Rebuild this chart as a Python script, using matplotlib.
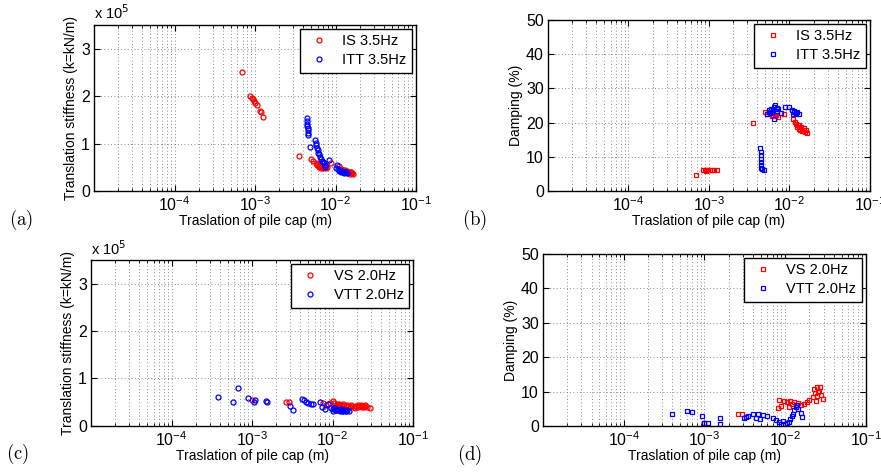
import matplotlib
matplotlib.use("Agg")
import matplotlib.pyplot as plt
from matplotlib.ticker import LogLocator, NullFormatter, FixedLocator

plt.rcParams['font.family'] = ['Liberation Sans', 'DejaVu Sans']

# ---------------- data ----------------
# (a) stiffness, horizontal test 3.5 Hz  (x in m, y in 1e5 kN/m)
is_a_x = [6.95e-4, 8.67e-4, 9.18e-4, 9.44e-4, 9.72e-4, 1.01e-3, 1.06e-3, 1.15e-3, 1.20e-3, 1.25e-3,
          3.55e-3, 4.97e-3, 5.30e-3, 5.80e-3, 5.95e-3, 6.10e-3, 6.30e-3, 6.50e-3, 6.70e-3, 6.90e-3,
          7.10e-3, 7.30e-3, 7.55e-3, 7.76e-3, 8.80e-3, 1.11e-2, 1.18e-2, 1.24e-2, 1.28e-2, 1.32e-2,
          1.36e-2, 1.40e-2, 1.44e-2, 1.48e-2, 1.52e-2, 1.56e-2, 1.60e-2, 1.65e-2, 1.30e-2, 1.42e-2,
          1.50e-2, 1.58e-2, 6.20e-3, 6.60e-3, 7.00e-3]
is_a_y = [2.50, 2.01, 1.97, 1.935, 1.905, 1.85, 1.82, 1.69, 1.67, 1.57,
          0.74, 0.67, 0.64, 0.58, 0.55, 0.57, 0.53, 0.55, 0.51, 0.53,
          0.50, 0.52, 0.49, 0.50, 0.58, 0.53, 0.47, 0.45, 0.43, 0.45,
          0.41, 0.43, 0.40, 0.39, 0.40, 0.37, 0.38, 0.36, 0.39, 0.37,
          0.36, 0.39, 0.50, 0.49, 0.48]
itt_a_x = [4.39e-3, 4.42e-3, 4.45e-3, 4.48e-3, 4.50e-3, 4.53e-3, 4.56e-3, 4.60e-3, 4.82e-3,
           5.60e-3, 5.70e-3, 5.80e-3, 5.90e-3, 6.00e-3, 6.10e-3, 6.25e-3, 6.40e-3, 6.55e-3,
           6.70e-3, 6.90e-3, 7.10e-3, 7.30e-3, 7.50e-3, 8.30e-3, 1.00e-2, 1.03e-2, 1.08e-2,
           1.12e-2, 1.16e-2, 1.20e-2, 1.24e-2, 1.28e-2, 1.32e-2, 1.38e-2, 1.10e-2, 1.18e-2,
           1.26e-2, 1.35e-2]
itt_a_y = [1.53, 1.47, 1.42, 1.37, 1.33, 1.28, 1.23, 1.18, 0.93,
           1.08, 1.02, 0.96, 0.91, 0.86, 0.81, 0.77, 0.72, 0.68,
           0.64, 0.61, 0.58, 0.55, 0.51, 0.65, 0.48, 0.55, 0.47,
           0.45, 0.43, 0.42, 0.41, 0.40, 0.39, 0.38, 0.42, 0.39,
           0.38, 0.40]

# (b) damping, horizontal test 3.5 Hz  (%)
is_b_x = [6.90e-4, 8.50e-4, 8.80e-4, 9.20e-4, 9.50e-4, 9.80e-4, 1.02e-3, 1.08e-3, 1.15e-3, 1.24e-3,
          3.49e-3, 4.97e-3, 5.20e-3, 6.00e-3, 6.30e-3, 6.60e-3, 6.80e-3, 7.20e-3, 8.60e-3,
          1.10e-2, 1.17e-2, 1.20e-2, 1.23e-2, 1.27e-2, 1.30e-2, 1.33e-2, 1.37e-2, 1.40e-2,
          1.45e-2, 1.50e-2, 1.55e-2, 1.60e-2, 1.64e-2]
is_b_y = [4.6, 6.0, 6.2, 5.9, 6.1, 6.0, 6.2, 6.0, 6.0, 6.1,
          19.9, 23.0, 22.5, 22.0, 22.3, 21.8, 22.3, 21.5, 22.6,
          21.0, 20.3, 19.5, 18.8, 19.2, 18.2, 19.4, 17.8, 18.6,
          17.5, 18.3, 17.2, 17.8, 16.9]
itt_b_x = [4.35e-3, 4.40e-3, 4.42e-3, 4.38e-3, 4.45e-3, 4.40e-3, 4.45e-3, 4.50e-3, 4.80e-3,
           5.20e-3, 5.50e-3, 5.73e-3, 5.90e-3, 6.10e-3, 6.40e-3, 6.50e-3, 6.70e-3, 6.90e-3,
           7.30e-3, 7.80e-3, 8.70e-3, 9.80e-3, 1.06e-2, 1.10e-2, 1.15e-2, 1.20e-2, 1.25e-2, 1.30e-2,
           5.60e-3, 6.20e-3, 7.00e-3, 1.13e-2, 1.22e-2]
itt_b_y = [12.5, 11.5, 10.5, 9.5, 8.5, 7.5, 6.8, 6.3, 6.1,
           22.5, 23.8, 22.7, 24.0, 23.2, 21.0, 24.5, 25.1, 23.5,
           24.0, 22.8, 24.7, 24.6, 23.7, 22.5, 23.2, 22.4, 23.0, 22.6,
           23.0, 23.8, 24.2, 23.4, 22.8]

# (c) stiffness, vertical test 2.0 Hz
vs_c_x = [1.00e-3, 2.63e-3, 2.85e-3, 7.60e-3, 8.20e-3, 9.30e-3, 1.00e-2, 1.05e-2, 1.10e-2,
          1.15e-2, 1.20e-2, 1.26e-2, 1.32e-2, 1.40e-2, 1.48e-2, 1.56e-2, 1.65e-2, 1.75e-2,
          1.85e-2, 1.95e-2, 2.05e-2, 2.15e-2, 2.25e-2, 2.35e-2, 2.45e-2, 2.55e-2, 2.70e-2, 2.95e-2,
          1.08e-2, 1.22e-2, 1.36e-2, 1.52e-2, 1.70e-2, 1.90e-2, 2.10e-2, 2.30e-2, 2.50e-2]
vs_c_y = [0.54, 0.49, 0.50, 0.48, 0.43, 0.47, 0.52, 0.47, 0.44,
          0.45, 0.42, 0.44, 0.41, 0.43, 0.41, 0.42, 0.40, 0.41,
          0.40, 0.42, 0.40, 0.41, 0.44, 0.42, 0.40, 0.41, 0.39, 0.37,
          0.40, 0.46, 0.45, 0.44, 0.43, 0.38, 0.43, 0.39, 0.43]
vtt_c_x = [3.82e-4, 5.86e-4, 6.70e-4, 9.00e-4, 1.05e-3, 1.10e-3, 1.50e-3, 1.52e-3, 2.95e-3, 3.26e-3,
           4.14e-3, 4.40e-3, 4.70e-3, 5.00e-3, 5.40e-3, 5.70e-3, 7.00e-3, 7.40e-3, 8.00e-3,
           8.90e-3, 9.50e-3, 1.00e-2, 1.05e-2, 1.10e-2, 1.15e-2, 1.20e-2, 1.26e-2, 1.32e-2,
           1.38e-2, 1.45e-2, 1.52e-2, 1.60e-2, 1.02e-2, 1.12e-2, 1.24e-2, 1.35e-2, 1.48e-2]
vtt_c_y = [0.60, 0.49, 0.80, 0.58, 0.50, 0.54, 0.52, 0.50, 0.42, 0.33,
           0.56, 0.54, 0.49, 0.47, 0.46, 0.45, 0.51, 0.40, 0.36,
           0.46, 0.38, 0.35, 0.37, 0.34, 0.36, 0.33, 0.35, 0.32,
           0.34, 0.32, 0.33, 0.30, 0.31, 0.33, 0.31, 0.30, 0.31]

# (d) damping, vertical test 2.0 Hz
vs_d_x = [1.00e-3, 2.63e-3, 2.95e-3, 8.30e-3, 8.10e-3, 9.00e-3, 9.80e-3, 1.05e-2, 1.10e-2,
          1.15e-2, 1.20e-2, 1.28e-2, 1.35e-2, 1.45e-2, 1.56e-2, 1.70e-2, 1.85e-2, 2.00e-2,
          2.20e-2, 2.30e-2, 2.35e-2, 2.45e-2, 2.50e-2, 2.60e-2, 2.70e-2, 2.80e-2, 2.95e-2,
          2.40e-2, 2.55e-2]
vs_d_y = [0.9, 3.6, 3.6, 7.5, 5.1, 5.8, 7.4, 6.9, 5.6,
          7.2, 6.5, 7.0, 6.2, 6.8, 6.1, 6.4, 6.9, 7.5,
          8.3, 10.8, 9.5, 11.3, 8.6, 10.2, 11.2, 9.1, 7.9,
          7.2, 9.8]
vtt_d_x = [4.00e-4, 6.00e-4, 7.10e-4, 9.20e-4, 1.00e-3, 1.10e-3, 1.57e-3, 1.57e-3,
           3.10e-3, 3.30e-3, 3.50e-3, 4.00e-3, 4.30e-3, 4.60e-3, 4.90e-3, 5.30e-3, 5.95e-3,
           7.00e-3, 7.60e-3, 8.30e-3, 9.00e-3, 9.50e-3, 1.00e-2, 1.05e-2, 1.10e-2, 1.15e-2,
           1.20e-2, 1.25e-2, 1.30e-2, 1.35e-2, 1.40e-2, 1.45e-2, 1.56e-2, 1.60e-2]
vtt_d_y = [3.5, 4.45, 4.2, 2.9, 1.0, 0.8, 2.2, 0.6,
           2.2, 2.5, 2.9, 3.5, 2.4, 3.6, 2.1, 3.2, 2.8,
           2.4, 1.6, 1.25, 0.6, 1.5, 0.5, 0.9, 1.3, 2.0,
           2.8, 3.6, 4.6, 5.5, 6.1, 5.0, 3.7, 2.5]

X_TICKS = [1e-4, 1e-3, 1e-2, 1e-1]

PANELS = [
    # label, rect, red x/y, blue x/y, marker, legend names, ylabel, ymax, yticks, x10^5 note
    ('(a)', [0.1067, 0.5979, 0.3655, 0.3495], is_a_x, is_a_y, itt_a_x, itt_a_y, 'o',
     ('IS 3.5Hz', 'ITT 3.5Hz'), 'Translation stiffness (k=kN/m)', 3.5, [0, 1, 2, 3], True),
    ('(b)', [0.6220, 0.5979, 0.3655, 0.3600], is_b_x, is_b_y, itt_b_x, itt_b_y, 's',
     ('IS 3.5Hz', 'ITT 3.5Hz'), 'Damping (%)', 50, [0, 10, 20, 30, 40, 50], False),
    ('(c)', [0.1033, 0.1038, 0.3655, 0.3488], vs_c_x, vs_c_y, vtt_c_x, vtt_c_y, 'o',
     ('VS 2.0Hz', 'VTT 2.0Hz'), 'Translation stiffness (k=kN/m)', 3.5, [0, 1, 2, 3], True),
    ('(d)', [0.6163, 0.1032, 0.3666, 0.3621], vs_d_x, vs_d_y, vtt_d_x, vtt_d_y, 's',
     ('VS 2.0Hz', 'VTT 2.0Hz'), 'Damping (%)', 50, [0, 10, 20, 30, 40, 50], False),
]

fig = plt.figure(figsize=(8.81, 4.75), dpi=100)

for (lab, rect, rx, ry, bx, by, mk, names, ylab, ytop, yt, exp) in PANELS:
    ax = fig.add_axes(rect)
    ms = 3.6 if mk == 'o' else 3.2
    ax.plot(rx, ry, mk, mfc='none', mec='r', ms=ms, mew=0.9, label=names[0])
    ax.plot(bx, by, mk, mfc='none', mec='b', ms=ms, mew=0.9, label=names[1])
    ax.set_xscale('log')
    ax.set_xlim(1e-5, 1e-1)
    ax.set_ylim(0, ytop)
    ax.yaxis.set_major_locator(FixedLocator(yt))
    ax.xaxis.set_major_locator(FixedLocator(X_TICKS))
    ax.xaxis.set_minor_locator(LogLocator(base=10, subs=range(2, 10), numticks=20))
    ax.xaxis.set_minor_formatter(NullFormatter())
    ax.tick_params(which='both', direction='in', top=True, right=True, labelsize=11.5)
    ax.tick_params(which='major', length=4, width=0.8, pad=3)
    ax.tick_params(which='minor', length=2, width=0.6)
    ax.grid(True, which='major', axis='both', ls=(0, (1, 3)), color='0.4', lw=0.6)
    ax.grid(True, which='minor', axis='x', ls=(0, (1, 3)), color='0.4', lw=0.6)
    for s in ax.spines.values():
        s.set_linewidth(1.0)
    ax.set_xlabel('Traslation of pile cap (m)', fontsize=10, labelpad=0)
    ax.set_ylabel(ylab, fontsize=10, labelpad=2)
    if exp:
        ax.text(0.0, 1.015, r'x 10$^5$', transform=ax.transAxes, ha='left', va='bottom',
                fontsize=10.5)
    leg = ax.legend(loc='upper right', fontsize=10.5, frameon=True, fancybox=False,
                    framealpha=1, edgecolor='k', borderaxespad=0.25, handletextpad=0.7,
                    borderpad=0.4, handlelength=1.8, labelspacing=0.3, numpoints=1)
    leg.get_frame().set_linewidth(1.0)
    # panel letter
    fig.text(rect[0] - 0.083, rect[1] - 0.06, r'$\mathrm{' + lab + '}$', fontsize=13.5,
             math_fontfamily='cm', ha='center', va='center')

fig.savefig('out.png', dpi=100)
